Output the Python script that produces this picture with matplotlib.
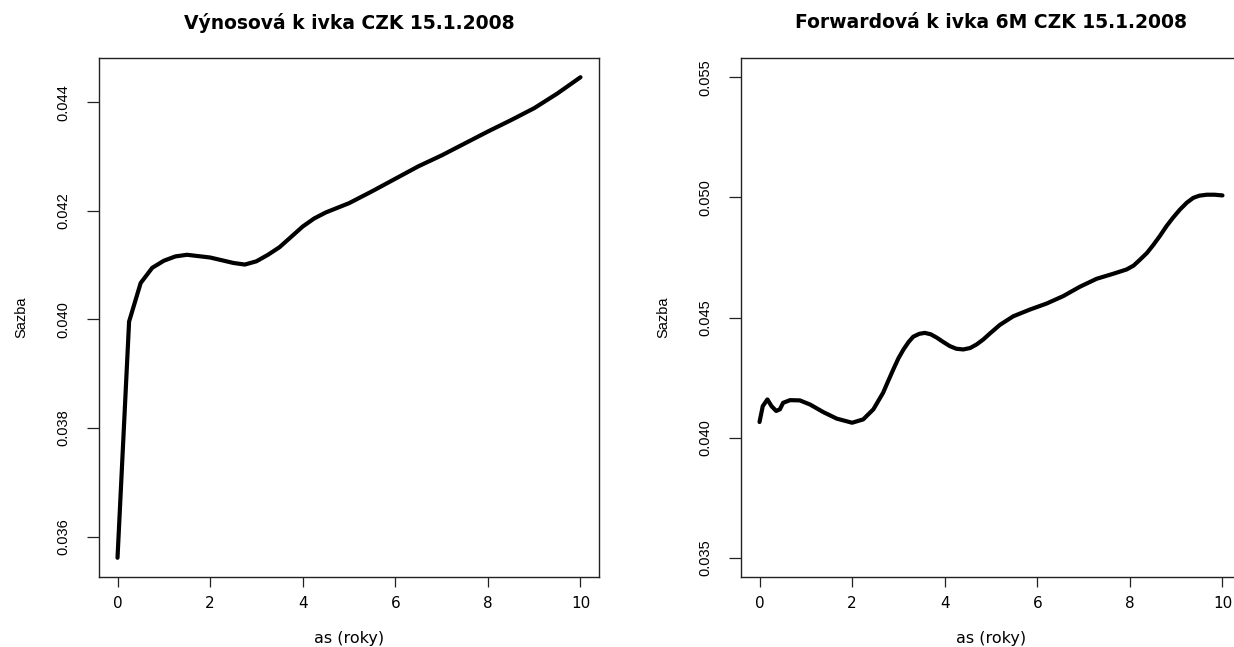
import matplotlib
matplotlib.use("Agg")
import matplotlib.pyplot as plt
import numpy as np

plt.rcParams['font.family'] = ['Liberation Sans', 'DejaVu Sans']

# Left panel: yield curve
x_yield = [0, 0.25, 0.5, 0.75, 1, 1.25, 1.5, 2, 2.5, 2.75, 3, 3.25, 3.5, 4, 4.25, 4.5,
           5, 5.5, 6, 6.5, 7, 7.5, 8, 8.5, 9, 9.5, 10]
y_yield = [0.03561, 0.03996, 0.04067, 0.04095, 0.04108, 0.04116, 0.04119, 0.04114,
           0.04104, 0.04101, 0.04107, 0.04119, 0.04133, 0.04171, 0.04186, 0.04197,
           0.04214, 0.04236, 0.04259, 0.04282, 0.04302, 0.04324, 0.04346, 0.04367,
           0.04389, 0.04416, 0.04446]

# Right panel: 6M forward curve
x_fwd = [0, 0.07, 0.17, 0.26, 0.36, 0.44, 0.51, 0.66, 0.87, 1.09, 1.38, 1.67, 2.0, 2.24,
         2.46, 2.67, 2.78, 2.89, 3.0, 3.11, 3.22, 3.32, 3.45, 3.57, 3.7, 3.83, 3.97, 4.11,
         4.25, 4.4, 4.55, 4.69, 4.83, 4.98, 5.19, 5.48, 5.84, 6.2, 6.56, 6.92, 7.28, 7.64,
         7.93, 8.08, 8.22, 8.37, 8.51, 8.65, 8.79, 8.93, 9.08, 9.23, 9.37, 9.5, 9.66,
         9.83, 10.0]
y_fwd = [0.04065, 0.04131, 0.04159, 0.04131, 0.04111, 0.04118, 0.04145, 0.04156, 0.04155,
         0.04138, 0.04106, 0.04079, 0.04062, 0.04076, 0.04118, 0.04187, 0.04236, 0.04284,
         0.04330, 0.04367, 0.04398, 0.04420, 0.04432, 0.04436, 0.04430, 0.04416, 0.04398,
         0.04381, 0.04370, 0.04367, 0.04373, 0.04388, 0.04408, 0.04434, 0.04469, 0.04505,
         0.04533, 0.04558, 0.04589, 0.04628, 0.04661, 0.04682, 0.04700, 0.04716, 0.04741,
         0.04769, 0.04803, 0.04840, 0.04880, 0.04915, 0.04949, 0.04978, 0.04998, 0.05007,
         0.05011, 0.05011, 0.05008]

x_ticks = [0, 2, 4, 6, 8, 10]
y_ticks_left = [0.036, 0.038, 0.040, 0.042, 0.044]
y_ticks_right = [0.035, 0.040, 0.045, 0.050, 0.055]

titles = ["Výnosová k ivka CZK 15.1.2008", "Forwardová k ivka 6M CZK 15.1.2008"]
xlabel = "as (roky)"
ylabel = "Sazba"

W, H = 1234, 647
fig = plt.figure(figsize=(W / 100, H / 100), dpi=100)
fig.patch.set_facecolor('white')

ax1 = fig.add_axes([99 / W, (H - 577) / H, 500 / W, 519 / H])
ax2 = fig.add_axes([741 / W, (H - 577) / H, 500 / W, 519 / H])

wide = ['DejaVu Sans']


def style(ax, yt, ylim, title):
    ax.set_xlim(-0.4, 10.4)
    ax.set_ylim(*ylim)
    ax.set_xticks(x_ticks)
    ax.set_xticklabels([str(t) for t in x_ticks], family=wide, fontsize=11)
    ax.set_yticks(yt)
    ax.set_yticklabels([f"{v:.3f}" for v in yt], rotation=90, va='center', fontsize=10.5)
    ax.tick_params(direction='out', width=0.9, color='#222222')
    ax.tick_params(axis='x', length=7, pad=7)
    ax.tick_params(axis='y', length=8.5, pad=12)
    for s in ax.spines.values():
        s.set_linewidth(1.0)
        s.set_color('#222222')
    ax.set_xlabel(xlabel, fontsize=11.5, family=wide)
    ax.xaxis.set_label_coords(0.5, -(639 - 577) / 519)
    ax.xaxis.label.set_va('center')
    ax.set_ylabel(ylabel, fontsize=10.5)
    ax.yaxis.set_label_coords(-0.156, 0.5)
    ax.yaxis.label.set_va('center')
    ax.text(0.5, 1 + 35 / 519, title, transform=ax.transAxes, ha='center',
            va='center', fontsize=13.5, fontweight='bold', family=wide)


ax1.plot(x_yield, y_yield, color='black', lw=3, solid_joinstyle='round',
         solid_capstyle='round')
r = max(y_yield) - min(y_yield)
style(ax1, y_ticks_left, (min(y_yield) - 0.04 * r, max(y_yield) + 0.04 * r), titles[0])

ax2.plot(x_fwd, y_fwd, color='black', lw=3, solid_joinstyle='round',
         solid_capstyle='round')
style(ax2, y_ticks_right, (0.035 - 0.0008, 0.055 + 0.0008), titles[1])

fig.savefig("out.png", dpi=100, facecolor='white')
